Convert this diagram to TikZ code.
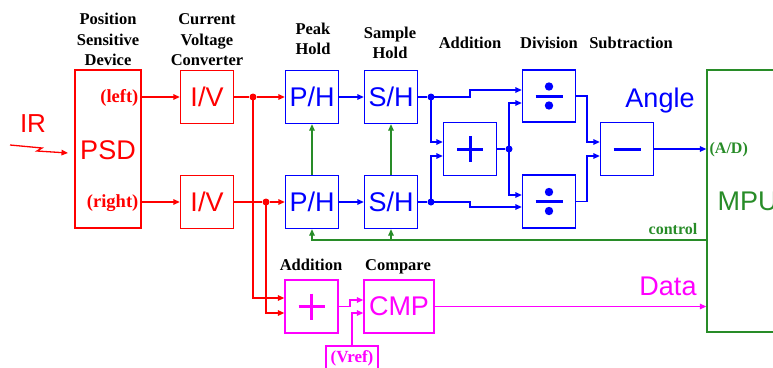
\documentclass[tikz,border=0pt]{standalone}
\usepackage{fontspec}
\setmainfont{Liberation Serif}
\setsansfont{Liberation Sans}
\usetikzlibrary{arrows.meta}
\definecolor{cred}{RGB}{255,0,0}
\definecolor{cblue}{RGB}{0,0,255}
\definecolor{cgreen}{RGB}{40,140,40}
\definecolor{cmag}{RGB}{255,0,255}
\begin{document}
\begin{tikzpicture}[x=1pt,y=-1pt,line width=1.3pt,
  hdr/.style={font=\fontsize{16.5}{16.5}\selectfont\bfseries,inner sep=0pt,anchor=base},
  lbl/.style={font=\fontsize{16}{16}\selectfont\bfseries,inner sep=0pt},
  big/.style={font=\sffamily\fontsize{27}{27}\selectfont,inner sep=0pt},
  blk/.style={draw,minimum width=53pt,minimum height=53pt,inner sep=0pt,font=\sffamily\fontsize{27}{27}\selectfont},
  arr/.style={-{Triangle[length=6.5pt,width=5.5pt]}},
  jdot/.style={circle,fill,inner sep=0pt,minimum size=7pt},
  sym/.style={line width=3pt}]
\useasboundingbox (0,0) rectangle (773,367);
\clip (0,0) rectangle (773,367);

% ---------- headers ----------
\node[hdr] (h1a) at (108,24) {Position};
\node[hdr] (h1b) at (108,45) {Sensitive};
\node[hdr] (h1c) at (108,65) {Device};
\node[hdr] (h2a) at (207,24) {Current};
\node[hdr] (h2b) at (207,45) {Voltage};
\node[hdr] (h2c) at (207,65) {Converter};
\node[hdr] (h3a) at (313,34) {Peak};
\node[hdr] (h3b) at (313,54) {Hold};
\node[hdr] (h4a) at (390,38) {Sample};
\node[hdr] (h4b) at (390,58) {Hold};
\node[hdr] (h5) at (470,48) {Addition};
\node[hdr] (h6) at (549,48) {Division};
\node[hdr] (h7) at (631,48) {Subtraction};
\node[hdr] (h8) at (311,270) {Addition};
\node[hdr] (h9) at (398,270) {Compare};

% ---------- red part ----------
\begin{scope}[cred]
\node[draw,minimum width=66pt,minimum height=158pt,inner sep=0pt] (psd) at (108,149) {};
\node[big,anchor=base] (psdt) at (108,159) {PSD};
\node[lbl,anchor=east,font=\fontsize{18.5}{18.5}\selectfont\bfseries] (pl) at (139,98) {(left)};
\node[lbl,anchor=east,font=\fontsize{18.5}{18.5}\selectfont\bfseries] (pr) at (139,203) {(right)};
\node[big,anchor=base,font=\sffamily\fontsize{26}{26}\selectfont] (ir) at (33,132) {IR};
\coordinate (irs) at (10,145);
\coordinate (ire) at (68,153);
\draw[arr] (irs) -- (42,148) -- (37,151) -- (ire);
\node[blk] (iv1) at (207,97) {I/V};
\node[blk] (iv2) at (207,202) {I/V};
\draw[arr] (psd.east|-iv1) -- (iv1.west);
\draw[arr] (psd.east|-iv2) -- (iv2.west);
\node[jdot] (j1) at (253,97) {};
\node[jdot] (j2) at (266,202) {};
\end{scope}

% ---------- blue part ----------
\begin{scope}[cblue]
\node[blk] (ph1) at (312,97) {P/H};
\node[blk] (ph2) at (312,202) {P/H};
\node[blk] (sh1) at (391,97) {S/H};
\node[blk] (sh2) at (391,202) {S/H};
\node[blk] (add) at (470,149) {};
\node[blk,minimum height=52pt] (div1) at (549,96) {};
\node[blk] (div2) at (549,201.5) {};
\node[blk] (sub) at (627,149) {};
\draw[sym] ([xshift=-13pt]add.center) -- ([xshift=13pt]add.center);
\draw[sym] ([yshift=13pt]add.center) -- ([yshift=-13pt]add.center);
\draw[sym] ([xshift=-13.5pt]div1.center) -- ([xshift=13.5pt]div1.center);
\fill ([yshift=9.5pt]div1.center) circle (4.2pt);
\fill ([yshift=-9.5pt]div1.center) circle (4.2pt);
\draw[sym] ([xshift=-13.5pt]div2.center) -- ([xshift=13.5pt]div2.center);
\fill ([yshift=9.5pt]div2.center) circle (4.2pt);
\fill ([yshift=-9.5pt]div2.center) circle (4.2pt);
\draw[sym] ([xshift=-13.5pt]sub.center) -- ([xshift=13.5pt]sub.center);
\node[big,anchor=base] (angle) at (660,107) {Angle};
\draw[arr] (ph1) -- (sh1);
\draw[arr] (ph2) -- (sh2);
\node[jdot] (j3) at (431,97) {};
\node[jdot] (j4) at (431,202) {};
\node[jdot] (j5) at (509,149) {};
\draw (sh1) -- (j3);
\draw (sh2) -- (j4);
\draw[arr] (j3.center) -- (470,97) |- (div1.west|-0,90);
\draw[arr] (j3.center) |- (add.west|-0,142);
\draw[arr] (j4.center) |- (add.west|-0,156);
\draw[arr] (j4.center) -- (470,202) |- (div2.west|-0,207);
\draw (add) -- (j5);
\draw[arr] (j5.center) |- (div1.west|-0,103);
\draw[arr] (j5.center) |- (div2.west|-0,195);
\draw[arr] (div1.east) -- (587,96) |- (sub.west|-0,142);
\draw[arr] (div2.east) -- (587,201.5) |- (sub.west|-0,156);
\end{scope}

% ---------- green part ----------
\begin{scope}[cgreen]
\node[draw,minimum width=113pt,minimum height=262pt,inner sep=0pt] (mpu) at (763.5,201) {};
\node[big,anchor=base west] (mput) at (717,210) {MPU};
\node[lbl,anchor=west] (ad) at (709,150) {(A/D)};
\node[lbl] (ctl) at (673,229) {control};
\draw[arr] (ph2) -- (ph1);
\draw[arr] (sh2) -- (sh1);
\draw[arr] (mpu.west|-0,240) -| (ph2.south);
\draw[arr] (sh2.south|-0,240) -- (sh2.south);
\end{scope}
\draw[arr,cblue] (sub) -- (mpu.west|-sub);

% ---------- magenta part ----------
\begin{scope}[cmag]
\node[blk] (madd) at (311.5,306.5) {};
\draw[line width=2.6pt] ([xshift=-13pt]madd.center) -- ([xshift=13pt]madd.center);
\draw[line width=2.6pt] ([yshift=13pt]madd.center) -- ([yshift=-13pt]madd.center);
\node[blk,minimum width=70pt] (cmp) at (399,306.5) {CMP};
\node[draw,minimum width=52pt,minimum height=29pt,inner sep=0pt] (vref) at (352,360.5) {};
\node[lbl,font=\fontsize{17}{17}\selectfont\bfseries] (vreft) at (352,358) {(Vref)};
\node[big,anchor=base] (data) at (668,295) {Data};
\draw[arr] (madd.east) -- (350,306.5) |- (cmp.west|-0,300);
\draw[arr] (vref.north) |- (cmp.west|-0,313);
\draw[arr] (cmp) -- (mpu.west|-cmp);
\end{scope}
\draw[arr,cred] (j1.center) |- (madd.west|-0,298);
\draw[arr,cred] (j2.center) |- (madd.west|-0,313);
\draw[cred] (iv1) -- (j1);
\draw[arr,cred] (j1) -- (ph1);
\draw[cred] (iv2) -- (j2);
\draw[arr,cred] (j2) -- (ph2);
\end{tikzpicture}
\end{document}
